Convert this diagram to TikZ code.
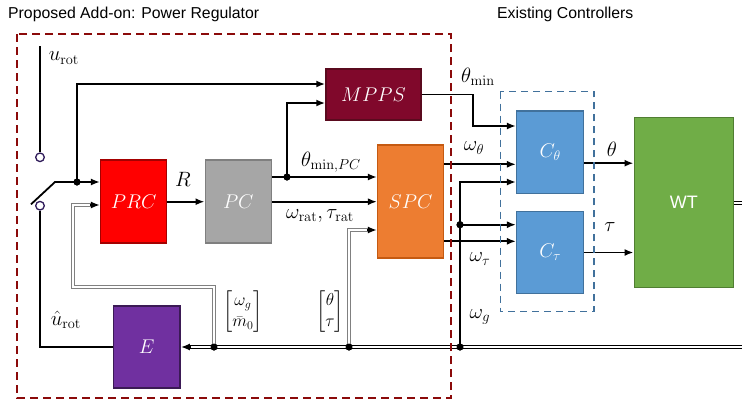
\documentclass[tikz,border=0pt]{standalone}
\usepackage{amsmath}
\usepackage{graphicx}
\usepackage[no-math]{fontspec}
\newfontfamily\sansfam{Liberation Sans}
\usetikzlibrary{arrows.meta,calc}
\newcommand{\mylab}[1]{\scalebox{1.2}{$#1$}}
\newcommand{\myblk}[1]{\scalebox{1.15}{$#1$}}
\definecolor{cPRC}{HTML}{FF0000}\definecolor{cPRCb}{HTML}{A50000}
\definecolor{cPC}{HTML}{A6A6A6}\definecolor{cPCb}{HTML}{7F7F7F}
\definecolor{cMP}{HTML}{80082B}\definecolor{cMPb}{HTML}{5A0A1E}
\definecolor{cSPC}{HTML}{ED7D31}\definecolor{cSPCb}{HTML}{C55A11}
\definecolor{cC}{HTML}{5B9BD5}\definecolor{cCb}{HTML}{41719C}
\definecolor{cWT}{HTML}{70AD47}\definecolor{cWTb}{HTML}{507E32}
\definecolor{cE}{HTML}{7030A0}\definecolor{cEb}{HTML}{3B1A55}
\definecolor{cRD}{HTML}{8B0A0A}\definecolor{cSW}{HTML}{2F1B5A}
\begin{document}
\begin{tikzpicture}[x=1pt,y=-1pt,
  blk/.style={draw, line width=1.5pt, inner sep=0pt, text=white, font=\fontsize{17.28}{20}\selectfont},
  wire/.style={line width=1.8pt, black},
  arr/.style={wire, -{Latex[length=9pt,width=7pt]}},
  dbl/.style={draw=gray, line width=0.9pt, double=white, double distance=1.8pt},
  bus/.style={draw=black, line width=0.9pt, double=white, double distance=2pt},
  dot/.style={circle, fill=black, inner sep=0pt, minimum size=7pt},
  sw/.style={circle, draw=cSW, fill=white, line width=1.3pt, inner sep=0pt, minimum size=8.6pt},
  lbl/.style={font=\fontsize{17.28}{20}\selectfont, inner sep=0pt},
  ttl/.style={font=\sansfam\fontsize{15.8}{18}\selectfont, inner sep=0pt, anchor=west}]
\useasboundingbox (0,0) rectangle (742,405);

% titles
\node[ttl] (t1) at (8,14) {Proposed Add-on: Power Regulator};
\node[ttl] (t2) at (497,14) {Existing Controllers};

% blocks
\node[blk, fill=cPRC, draw=cPRCb, minimum width=66pt, minimum height=83pt] (prc) at (133.7,201.7) {\myblk{PRC}};
\node[blk, fill=cPC, draw=cPCb, minimum width=66pt, minimum height=83pt] (pc) at (238.3,201.7) {\myblk{PC}};
\node[blk, fill=cMP, draw=cMPb, minimum width=95pt, minimum height=51pt] (mpps) at (373.5,94.5) {\myblk{MPPS}};
\node[blk, fill=cSPC, draw=cSPCb, minimum width=65.6pt, minimum height=113pt] (spc) at (410.5,201.7) {\myblk{SPC}};
\node[blk, fill=cC, draw=cCb, minimum width=67pt, minimum height=82.3pt] (cth) at (550.2,152.2) {\myblk{C_\theta}};
\node[blk, fill=cC, draw=cCb, minimum width=67pt, minimum height=81.6pt] (ctau) at (550.2,252.5) {\myblk{C_\tau}};
\node[blk, fill=cWT, draw=cWTb, minimum width=99pt, minimum height=169.6pt, font=\sansfam\fontsize{18}{20}\selectfont] (wt) at (683.8,202.5) {WT};
\node[blk, fill=cE, draw=cEb, minimum width=66.7pt, minimum height=82.3pt] (e) at (146.7,347) {\myblk{E}};

% switch
\coordinate (urtop) at (40,46);
\node[sw] (c1) at (40,157.3) {};
\node[sw] (c2) at (40,205.7) {};
\coordinate (swa) at (31,204.3);
\coordinate (swb) at (55,182);
\draw[wire] (urtop) -- (c1.north);
\draw[arr] (swa) -- (swb) -- (swb -| prc.west);
\draw[wire] (c2.south) |- (e.west);

% dots
\node[dot] (d1) at (77,182) {};
\node[dot] (d2) at (287,177) {};
\node[dot] (d3) at (460,224.7) {};
\node[dot] (b1) at (214,347) {};
\node[dot] (b2) at (349,347) {};
\node[dot] (b3) at (460,347) {};

% PRC region
\draw[arr] (d1.center) |- ([yshift=10.5pt]mpps.west);
\draw[arr] (prc.east) -- (prc.east -| pc.west);
\draw[arr] (pc.east |- d2) -- (d2 -| spc.west);
\draw[arr] (d2.center) |- ([yshift=-8.5pt]mpps.west);
\draw[arr] (pc.east) -- (pc.east -| spc.west);

% feedback double lines
\coordinate (fbk) at (73,287);
\draw[dbl] (b1.center) |- (fbk) |- ([xshift=-8pt,yshift=-3.3pt]prc.west);
\draw[arr] ([xshift=-10pt,yshift=-3.3pt]prc.west) -- ([yshift=-3.3pt]prc.west);
\draw[dbl] (b2.center) |- ([xshift=-8pt,yshift=-28.3pt]spc.west);
\draw[arr] ([xshift=-10pt,yshift=-28.3pt]spc.west) -- ([yshift=-28.3pt]spc.west);

% to controllers
\coordinate (mk) at (472.7,126);
\draw[arr] (mpps.east) -| (mk) -- (mk -| cth.west);
\draw[arr] ([yshift=37.4pt]spc.east) -- ([yshift=37.4pt]spc.east -| cth.west);
\draw[arr] ([yshift=-39.6pt]spc.east) -- ([yshift=-39.6pt]spc.east -| ctau.west);
\draw[arr] (b3.center) |- ([yshift=-29.8pt]cth.west);
\draw[arr] (d3.center) -- (d3 -| ctau.west);
\draw[arr] ([yshift=-11pt]cth.east) -- ([yshift=-11pt]cth.east -| wt.west);
\draw[arr] (ctau.east) -- (ctau.east -| wt.west);

% bus and WT output
\coordinate (wtout) at (742,203);
\draw[bus] (wt.east |- wtout) -- (wtout);
\coordinate (busR) at (742,347);
\draw[bus] (busR) -- ([xshift=8pt]e.east);
\draw[arr] ([xshift=10pt]e.east) -- (e.east);

% redraw dots on top
\foreach \n in {d1,d2,d3,b1,b2,b3} \fill (\n) circle (3.5pt);

% labels
\node[lbl] (lu) at (64,58) {\mylab{u_{\mathrm{rot}}}};
\node[lbl] (lR) at (183,179) {\mylab{R}};
\node[lbl] (lthpc) at (331,162) {\mylab{\theta_{\mathrm{min},PC}}};
\node[lbl] (lrat) at (320,216) {\mylab{\omega_{\mathrm{rat}},\tau_{\mathrm{rat}}}};
\node[lbl] (lthmin) at (478,77) {\mylab{\theta_{\mathrm{min}}}};
\node[lbl] (lwth) at (474,148) {\mylab{\omega_\theta}};
\node[lbl] (lwtau) at (480,259) {\mylab{\omega_\tau}};
\node[lbl] (lwg) at (480,317) {\mylab{\omega_g}};
\node[lbl] (lth) at (612,149) {\mylab{\theta}};
\node[lbl] (ltau) at (610,227) {\mylab{\tau}};
\node[lbl] (luhat) at (66,320) {\mylab{\hat{u}_{\mathrm{rot}}}};
\node[lbl] (lvec1) at (243,312) {\renewcommand{\arraystretch}{1.05}$\begin{bmatrix}\omega_g\\ \bar{m}_0\end{bmatrix}$};
\node[lbl] (lvec2) at (330,312) {\renewcommand{\arraystretch}{1.05}$\begin{bmatrix}\theta\\ \tau\end{bmatrix}$};

% dashed groups
\draw[cRD, line width=2pt, dash pattern=on 8pt off 5pt] (17,34) rectangle (451,398);
\draw[cCb, line width=1.5pt, dash pattern=on 7pt off 5pt] (500.3,91.7) rectangle (594,311.7);
\end{tikzpicture}
\end{document}
